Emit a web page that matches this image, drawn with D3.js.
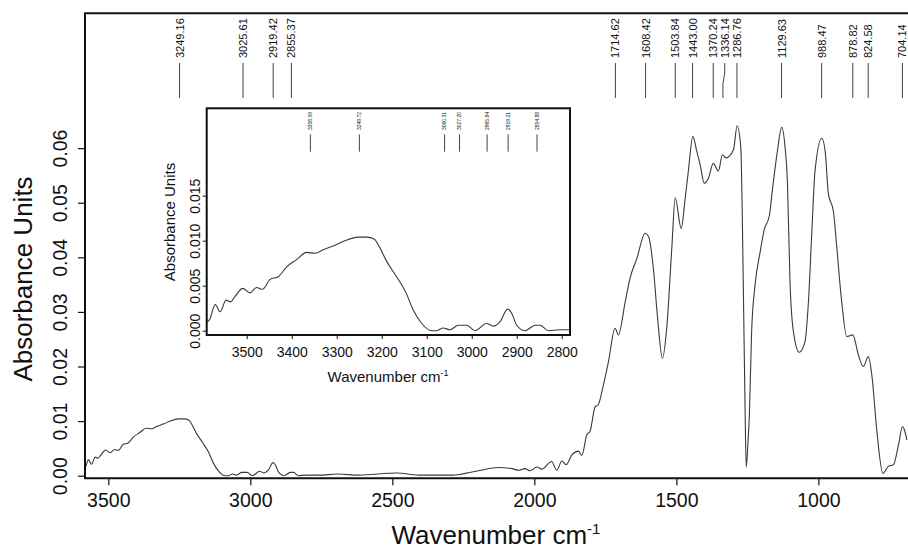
<!DOCTYPE html>
<html><head><meta charset="utf-8">
<script src="https://cdn.jsdelivr.net/npm/d3@7"></script>
<style>
html,body{margin:0;padding:0;background:#fff;}
text{font-family:"Liberation Sans",Arial,sans-serif;fill:#111;}
</style></head>
<body><svg id="c" width="908" height="550"></svg>
<script>
// ---- data (wavenumber cm-1, absorbance) ----
const wavenumbers = [3589,3583,3570,3559,3546,3536,3526,3509,3493,3478,3465,3448,3430,3411,3389,3367,3348,3330,3304,3282,3252,3233,3217,3204,3189,3167,3146,3130,3111,3089,3078,3063,3048,3030,3011,2993,2967,2952,2937,2920,2911,2900,2882,2859,2848,2830,2804,2782,
 2760,2690,2619,2484,2408,2290,2197,2127,2079,2056,2033,2015,1991,1974,1939,1921,1903,1888,1868,1845,1833,1815,1804,1786,1775,1757,1739,1716,1704,1680,1663,1639,1610,1598,1581,1567,1549,1534,1516,1504,1483,1469,1458,1442,1428,1416,1402,1387,1370,1352,1338,1325,1299,1286,1273,1268,1263,1258,1254,1248,1243,1235,1223,1205,1191,1172,1164,1146,1129,1117,1109,1100,1088,1067,1047,1035,1023,1012,988,976,965,947,935,918,900,879,859,842,824,812,794,773,754,736,718,704,698,688];
const absorbance = [0.0010,0.0012,0.0029,0.0021,0.0034,0.0032,0.0038,0.0047,0.0042,0.0048,0.0046,0.0057,0.0060,0.0071,0.0079,0.0087,0.0086,0.0090,0.0095,0.0100,0.0104,0.0104,0.0102,0.0092,0.0077,0.0060,0.0042,0.0023,0.0008,0.0000,0.0000,0.0003,0.0001,0.0006,0.0006,0.0000,0.0008,0.0005,0.0010,0.0024,0.0019,0.0006,0.0000,0.0006,0.0006,0.0000,0.0001,0.0001,
 0.0001,0.0003,0.0001,0.0005,0.0001,0.0001,0.0009,0.0015,0.0013,0.0010,0.0013,0.0009,0.0016,0.0012,0.0026,0.0010,0.0027,0.0020,0.0038,0.0045,0.0037,0.0075,0.0081,0.0126,0.0130,0.0166,0.0209,0.0270,0.0258,0.0319,0.0362,0.0398,0.0444,0.0438,0.0380,0.0294,0.0215,0.0270,0.0417,0.0509,0.0453,0.0508,0.0557,0.0621,0.0594,0.0569,0.0536,0.0545,0.0572,0.0558,0.0588,0.0582,0.0597,0.0641,0.0600,0.0480,0.0300,0.0120,0.0016,0.0060,0.0111,0.0264,0.0349,0.0410,0.0450,0.0478,0.0514,0.0588,0.0638,0.0600,0.0539,0.0356,0.0264,0.0226,0.0246,0.0319,0.0447,0.0557,0.0618,0.0594,0.0517,0.0484,0.0417,0.0319,0.0255,0.0258,0.0221,0.0200,0.0218,0.0185,0.0081,0.0004,0.0017,0.0020,0.0056,0.0090,0.0085,0.0065];
const peakLabels = [3249.16,3025.61,2919.42,2855.37,1714.62,1608.42,1503.84,1443.00,1370.24,1336.14,1286.76,1129.63,988.47,878.82,824.58,704.14];
const insetPeakLabels = [3358.59,3249.72,3060.31,3027.20,2965.84,2919.21,2854.88];
const xTicks = [3500,3000,2500,2000,1500,1000];
const yTicks = [0,0.01,0.02,0.03,0.04,0.05,0.06];
const insetXTicks = [3500,3400,3300,3200,3100,3000,2900,2800];
const insetYTicks = [0,0.005,0.010,0.015];
const xTitle = "Wavenumber cm";
const yTitle = "Absorbance Units";

const data = wavenumbers.map((w,i)=>({w, a: absorbance[i]}));
const svg = d3.select("#c");
const FONT = '"Liberation Sans",Arial,sans-serif';

// ---- main chart ----
const x = d3.scaleLinear().domain([3582, 688]).range([85, 907]);
const y = d3.scaleLinear().domain([-0.00048, 0.0847]).range([478.3, 13.3]);

svg.append("defs").append("clipPath").attr("id","mainClip")
  .append("rect").attr("x",85).attr("y",13).attr("width",823).attr("height",466);

const line = d3.line().x(d=>x(d.w)).y(d=>y(d.a)).curve(d3.curveMonotoneX);
svg.append("path").datum(data).attr("d",line).attr("clip-path","url(#mainClip)")
  .attr("fill","none").attr("stroke","#3a3a3a").attr("stroke-width",1.1);

// x axis
const xa = svg.append("g").attr("transform",`translate(0,${y.range()[0]})`)
  .call(d3.axisBottom(x).tickValues(xTicks).tickSize(7).tickFormat(d3.format("d")));
xa.select(".domain").remove();
xa.selectAll(".tick line").attr("stroke","#111").attr("stroke-width",1.2);
xa.selectAll(".tick text").attr("y",28.7).attr("dy",0).style("font-size","19.5px").style("font-family",FONT).attr("fill","#111");

// y axis
const ya = svg.append("g").attr("transform",`translate(${x.range()[0]},0)`)
  .call(d3.axisLeft(y).tickValues(yTicks).tickSize(7).tickFormat(d3.format(".2f")));
ya.select(".domain").remove();
ya.selectAll(".tick line").attr("stroke","#111").attr("stroke-width",1.2);
ya.selectAll(".tick text").attr("x",0).attr("dy",0).attr("text-anchor","middle")
  .attr("transform","translate(-18,0) rotate(-90)").style("font-size","19.5px").style("font-family",FONT).attr("fill","#111");

// frame
svg.append("path").attr("d",`M${x.range()[1]+5},${y.range()[1]}H${x.range()[0]}V${y.range()[0]}H${x.range()[1]+5}`)
  .attr("fill","none").attr("stroke","#111").attr("stroke-width",2);

// titles
const xt = svg.append("text").attr("x",496).attr("y",544).attr("text-anchor","middle").style("font-size","26px");
xt.append("tspan").text(xTitle);
xt.append("tspan").attr("dy",-10).style("font-size","15px").text("-1");
svg.append("text").attr("transform","translate(31.5,279) rotate(-90)").attr("text-anchor","middle")
  .style("font-size","26px").text(yTitle);

// peak labels with simple collision avoidance
function spread(vals, scale, gap){
  const pts = vals.map(v=>({v, px: scale(v)})).sort((a,b)=>a.px-b.px);
  pts[0].lx = pts[0].px;
  for(let i=1;i<pts.length;i++){ pts[i].lx = Math.max(pts[i].px, pts[i-1].lx + gap); }
  return pts;
}
const lp = spread(peakLabels, x, 11.5);
const lg = svg.append("g");
lp.forEach(p=>{
  lg.append("path").attr("d",`M${p.lx},63V73L${p.px},84V98`).attr("fill","none").attr("stroke","#444").attr("stroke-width",1);
  lg.append("text").attr("transform",`translate(${p.lx+4},58) rotate(-90)`).attr("text-anchor","start")
    .style("font-size","11px").text(d3.format(".2f")(p.v));
});

// ---- inset ----
const ix = d3.scaleLinear().domain([3589, 2781.6]).range([206.7, 570]);
const iy = d3.scaleLinear().domain([-0.00048, 0.02471]).range([335, 108.3]);
svg.append("rect").attr("x",206.7).attr("y",108.3).attr("width",363.3).attr("height",226.7).attr("fill","#fff");
svg.append("defs").append("clipPath").attr("id","insetClip")
  .append("rect").attr("x",206.7).attr("y",108.3).attr("width",363.3).attr("height",226.7);
const iline = d3.line().x(d=>ix(d.w)).y(d=>iy(d.a)).curve(d3.curveMonotoneX);
svg.append("path").datum(data.filter(d=>d.w>=2760)).attr("d",iline).attr("clip-path","url(#insetClip)")
  .attr("fill","none").attr("stroke","#3a3a3a").attr("stroke-width",1.1);

const ixa = svg.append("g").attr("transform",`translate(0,${iy.range()[0]})`)
  .call(d3.axisBottom(ix).tickValues(insetXTicks).tickSize(4).tickFormat(d3.format("d")));
ixa.select(".domain").remove();
ixa.selectAll(".tick line").attr("stroke","#111");
ixa.selectAll(".tick text").attr("y",21.7).attr("dy",0).style("font-size","14px").style("font-family",FONT).attr("fill","#111");

const iya = svg.append("g").attr("transform",`translate(${ix.range()[0]},0)`)
  .call(d3.axisLeft(iy).tickValues(insetYTicks).tickSize(4).tickFormat(d3.format(".3f")));
iya.select(".domain").remove();
iya.selectAll(".tick line").attr("stroke","#111");
iya.selectAll(".tick text").attr("x",0).attr("dy",0).attr("text-anchor","middle")
  .attr("transform","translate(-6.7,0) rotate(-90)").style("font-size","14px").style("font-family",FONT).attr("fill","#111");

svg.append("rect").attr("x",206.7).attr("y",108.3).attr("width",363.3).attr("height",226.7)
  .attr("fill","none").attr("stroke","#111").attr("stroke-width",2);

const ixt = svg.append("text").attr("x",388).attr("y",381.7).attr("text-anchor","middle").style("font-size","15px");
ixt.append("tspan").text(xTitle);
ixt.append("tspan").attr("dy",-6).style("font-size","9px").text("-1");
svg.append("text").attr("transform","translate(175,222) rotate(-90)").attr("text-anchor","middle")
  .style("font-size","15px").text(yTitle);

const ilg = svg.append("g");
insetPeakLabels.forEach(v=>{
  const px = ix(v);
  ilg.append("line").attr("x1",px).attr("x2",px).attr("y1",134.3).attr("y2",151.7).attr("stroke","#444").attr("stroke-width",1);
  ilg.append("text").attr("transform",`translate(${px+1.8},130) rotate(-90)`).attr("text-anchor","start")
    .style("font-size","5px").text(d3.format(".2f")(v));
});
</script></body></html>
